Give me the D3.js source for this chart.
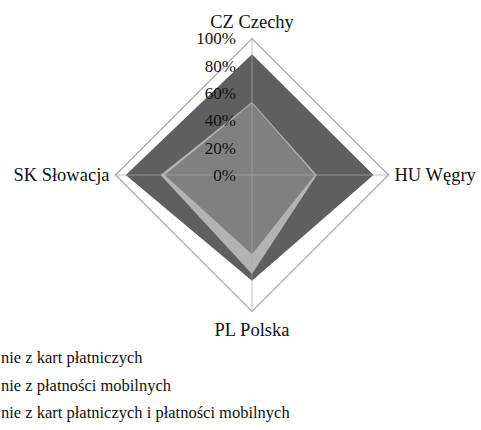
<!DOCTYPE html>
<html>
<head>
<meta charset="utf-8">
<script src="https://cdn.jsdelivr.net/npm/d3@7"></script>
<style>
  html, body { margin: 0; padding: 0; background: #fff; overflow: hidden; }
  svg { display: block; }
</style>
</head>
<body>
<svg id="chart" width="481" height="430"></svg>
<script>
const categories = ["CZ Czechy", "HU Węgry", "PL Polska", "SK Słowacja"];
const cardsValues = [0.885, 0.89, 0.775, 0.925];
const mobileValues = [0.535, 0.475, 0.725, 0.67];
const bothValues = [0.525, 0.46, 0.58, 0.64];
const tickValues = [0, 0.2, 0.4, 0.6, 0.8, 1.0];
const tickLabels = ["0%", "20%", "40%", "60%", "80%", "100%"];
const legendLabels = [
  "nie z kart płatniczych",
  "nie z płatności mobilnych",
  "nie z kart płatniczych i płatności mobilnych"
];

// pick an installed serif face
function pickFont() {
  const cands = ["Liberation Serif", "DejaVu Serif", "Tinos", "Times New Roman", "Noto Serif", "FreeSerif", "Nimbus Roman", "Times"];
  const ctx = document.createElement("canvas").getContext("2d");
  const s = "mmmmmmmmmmlliWWQQ Słowacja 100%";
  const base = {};
  ["monospace", "sans-serif"].forEach(b => { ctx.font = "40px " + b; base[b] = ctx.measureText(s).width; });
  for (const c of cands) {
    let ok = false;
    for (const b of ["monospace", "sans-serif"]) {
      ctx.font = `40px '${c}', ${b}`;
      if (Math.abs(ctx.measureText(s).width - base[b]) > 0.5) ok = true;
    }
    if (ok) return `'${c}', serif`;
  }
  return "serif";
}
const FONT = pickFont();

const series = [
  { name: legendLabels[0], values: cardsValues, color: "#5f5f5f" },
  { name: legendLabels[1], values: mobileValues, color: "#b3b3b3" },
  { name: legendLabels[2], values: bothValues, color: "#808080" }
];

const svg = d3.select("#chart");
const cx = 252, cy = 175;
const r = d3.scaleLinear().domain([0, 1]).range([0, 136.5]);
const angle = d3.scaleBand().domain(categories).range([0, 2 * Math.PI]);
const ang = c => angle(c) - Math.PI / 2;
const px = (c, v) => cx + r(v) * Math.cos(ang(c));
const py = (c, v) => cy + r(v) * Math.sin(ang(c));

const g = svg.append("g");

// outer gridline
const outer = categories.map(c => [px(c, 1), py(c, 1)]);
g.append("polygon")
  .attr("points", outer.map(p => p.join(",")).join(" "))
  .attr("fill", "none").attr("stroke", "#a9a9a9").attr("stroke-width", 1.2);

// series areas
const line = d3.lineRadial()
  .angle((d, i) => angle(categories[i]))
  .radius(d => r(d))
  .curve(d3.curveLinearClosed);

series.forEach(s => {
  g.append("path")
    .attr("transform", `translate(${cx},${cy})`)
    .attr("d", line(s.values))
    .attr("fill", s.color)
    .attr("stroke", "none");
});

// spokes on top
categories.forEach(c => {
  g.append("line")
    .attr("x1", cx).attr("y1", cy)
    .attr("x2", px(c, 1)).attr("y2", py(c, 1))
    .attr("stroke", "#a9a9a9").attr("stroke-width", 1).attr("stroke-opacity", 0.7);
});

// tick labels along first axis
tickValues.forEach((t, i) => {
  g.append("text")
    .attr("x", cx - 16)
    .attr("y", cy - r(t))
    .attr("dy", "0.35em")
    .attr("text-anchor", "end")
    .attr("font-family", FONT)
    .attr("font-size", 17)
    .attr("fill", "#111")
    .text(tickLabels[i]);
});

// category labels
const labelPos = [
  { dx: 0, dy: -17, anchor: "middle" },
  { dx: 6, dy: 0, anchor: "start" },
  { dx: 0, dy: 18, anchor: "middle" },
  { dx: -6, dy: 0, anchor: "end" }
];
categories.forEach((c, i) => {
  const lp = labelPos[i];
  g.append("text")
    .attr("x", px(c, 1) + lp.dx)
    .attr("y", py(c, 1) + lp.dy)
    .attr("dy", "0.33em")
    .attr("text-anchor", lp.anchor)
    .attr("font-family", FONT)
    .attr("font-size", 18.5)
    .attr("fill", "#111")
    .text(c);
});

// legend (left part cropped in reference)
legendLabels.forEach((l, i) => {
  svg.append("text")
    .attr("x", 1)
    .attr("y", 358 + i * 27.5)
    .attr("dy", "0.33em")
    .attr("font-family", FONT)
    .attr("font-size", 16.5)
    .attr("fill", "#111")
    .text(l);
});
</script>
</body>
</html>
